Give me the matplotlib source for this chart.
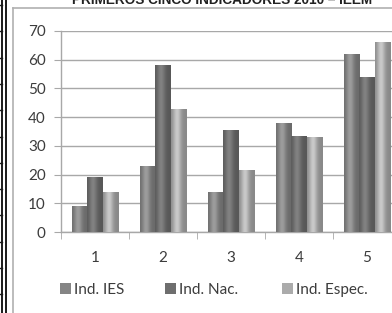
import numpy as np
import matplotlib
matplotlib.use("Agg")
import matplotlib.pyplot as plt
from matplotlib.lines import Line2D

categories = ["1", "2", "3", "4", "5"]
ind_ies = [9, 23, 14, 38, 62]
ind_nac = [19, 58, 35.5, 33.5, 54]
ind_espec = [14, 43, 21.5, 33, 66]
series_names = ["Ind. IES", "Ind. Nac.", "Ind. Espec."]
title = "PRIMEROS CINCO INDICADORES 2010 – IEEM"

colors = ["#858585", "#6e6e6e", "#ababab"]
grid_c = "#a8a8a8"
text_c = "#3c3c3c"

W, H = 392, 313
fig = plt.figure(figsize=(W / 100, H / 100), dpi=100)
fig.patch.set_facecolor("white")

ax = fig.add_axes([61 / W, 1 - 232 / H, 340 / W, 201 / H])
x = np.arange(1, len(categories) + 1)
bw = 0.23


def shade(ax, patches, base):
    # fake the cylinder look of the excel bars
    t = np.linspace(0, 1, 40)
    f = 0.80 + 0.38 * np.exp(-((t - 0.38) / 0.26) ** 2)
    rgb = np.array(matplotlib.colors.to_rgb(base))
    img = np.clip(rgb[None, None, :] * f[None, :, None], 0, 1)
    for p in patches:
        x0, w, h = p.get_x(), p.get_width(), p.get_height()
        im = ax.imshow(img, extent=[x0, x0 + w, 0, h], aspect="auto",
                       zorder=3, interpolation="bilinear")
        im.set_clip_path(p)


all_series = [ind_ies, ind_nac, ind_espec]
handles = []
for i, (vals, c) in enumerate(zip(all_series, colors)):
    bars = ax.bar(x + (i - 1) * bw, vals, bw, color=c, zorder=2,
                  label=series_names[i])
    shade(ax, bars, c)
    handles.append(bars)

ax.set_xlim(0.5, 5.5)
ax.set_ylim(0, 70)
ax.set_yticks(range(0, 71, 10))
ax.set_xticks(x)
ax.set_xticklabels(categories)
ax.set_xticks(np.arange(0.5, 5.6, 1), minor=True)
ax.yaxis.grid(True, color=grid_c, lw=1)
ax.set_axisbelow(True)
for s in ["top", "right"]:
    ax.spines[s].set_visible(False)
for s in ["left", "bottom"]:
    ax.spines[s].set_color(grid_c)
    ax.spines[s].set_linewidth(1)
ax.tick_params(axis="y", length=5, color=grid_c, labelsize=11,
               labelcolor=text_c, pad=6)
ax.tick_params(axis="x", which="major", length=0, labelsize=11,
               labelcolor=text_c, pad=14)
ax.tick_params(axis="x", which="minor", length=5, color=grid_c)
for lab in ax.get_xticklabels() + ax.get_yticklabels():
    lab.set_fontfamily("Lato")

# one legend per entry so each sits where excel put it
for h, name, xp in zip(handles, series_names, [60, 165, 282]):
    leg = fig.legend(handles=[h], labels=[name], loc="center left",
                     bbox_to_anchor=(xp / W, 1 - 290 / H), frameon=False,
                     borderpad=0, borderaxespad=0,
                     handlelength=0.75, handleheight=0.7, handletextpad=0.15,
                     prop={"family": "Lato", "size": 11})
    for t in leg.get_texts():
        t.set_color(text_c)

fig.text(222 / W, 1 - 4 / H, title, ha="center", va="baseline",
         fontsize=9.8, fontweight="bold", family="Liberation Sans",
         color="#222222")

# chart area border and the left edge of the sheet
fig.add_artist(Line2D([12.7 / W, 12.7 / W], [0, 1 - 7.5 / H],
                      color="#b0b0b0", lw=1.2))
fig.add_artist(Line2D([12.7 / W, 1], [1 - 7.5 / H, 1 - 7.5 / H],
                      color="#b0b0b0", lw=1.2))
for xp in [2.3, 6.2]:
    fig.add_artist(Line2D([xp / W, xp / W], [0, 1], color="#1a1a1a", lw=1.4))
for yp in np.arange(5, H, 26.3):
    fig.add_artist(Line2D([0, 2 / W], [1 - yp / H, 1 - yp / H],
                          color="#1a1a1a", lw=1))

fig.savefig("out.png", dpi=100)
